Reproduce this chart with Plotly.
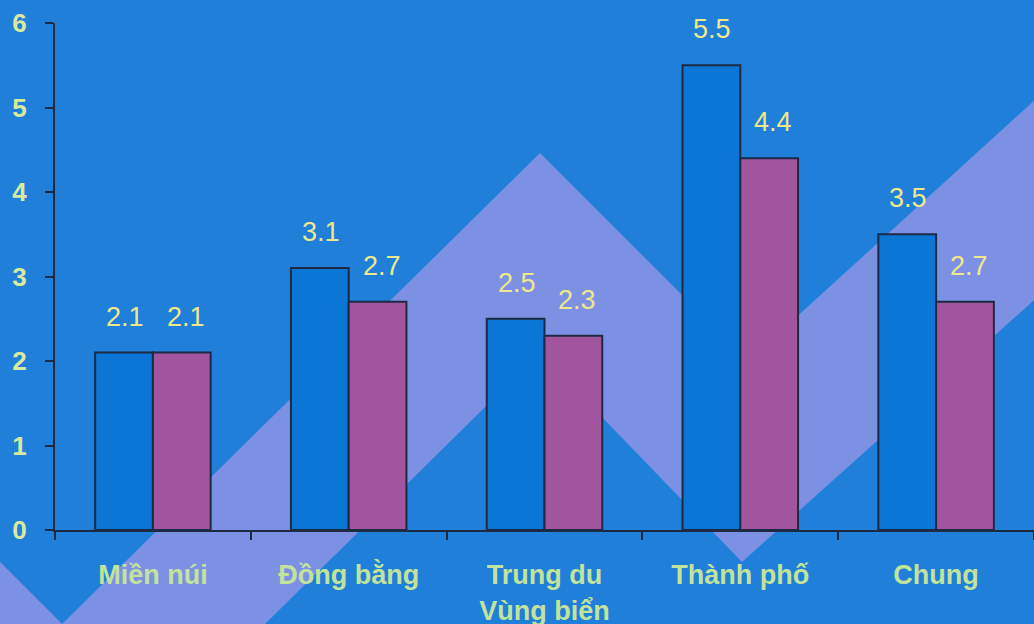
import plotly.graph_objects as go

# ---- data ----
categories = ["Miền núi", "Đồng bằng", "Trung du<br>Vùng biển", "Thành phố", "Chung"]
series_blue = [2.1, 3.1, 2.5, 5.5, 3.5]
series_purple = [2.1, 2.7, 2.3, 4.4, 2.7]
y_ticks = [0, 1, 2, 3, 4, 5, 6]

# ---- style ----
W, H = 1034, 624
ML, MR, MT, MB = 55, 0, 23, 94
PW, PH = W - ML - MR, H - MT - MB
BG = "#1f7fd9"
BAND = "#7d91e4"
BLUE = "#0b76d5"
PURPLE = "#a2559f"
EDGE = "#1c2a44"
TICK_COLOR = "#d9eaa0"
CAT_COLOR = "#c2e39c"
VAL_COLOR = "#eee88c"
FONT = "Liberation Sans, Arial, sans-serif"


def px(x):
    return (x - ML) / PW


def py(y):
    return (H - MB - y) / PH


# decorative zig-zag band (pixel coords of the background artwork)
band_pts = [(-30, 532), (62, 624), (540, 153), (748, 361), (1070, 68),
            (1070, 268), (742, 562), (540, 353), (62, 824), (-30, 732)]
path = "M " + " L ".join(f"{px(x):.4f},{py(y):.4f}" for x, y in band_pts) + " Z"

fig = go.Figure()
fig.add_trace(go.Bar(x=categories, y=series_blue, marker=dict(color=BLUE, line=dict(color=EDGE, width=2)),
                     showlegend=False, hoverinfo="skip"))
fig.add_trace(go.Bar(x=categories, y=series_purple, marker=dict(color=PURPLE, line=dict(color=EDGE, width=2)),
                     showlegend=False, hoverinfo="skip"))

bargap = 0.41
cat_px = PW / len(categories)
half_bar = cat_px * (1 - bargap) / 4
annotations = []
for cat, vb, vp in zip(categories, series_blue, series_purple):
    annotations.append(dict(x=cat, y=vb, text=f"{vb:.1f}", showarrow=False, xshift=-half_bar + 1, yshift=36,
                            yanchor="middle", font=dict(family=FONT, size=27, color=VAL_COLOR)))
    annotations.append(dict(x=cat, y=vp, text=f"{vp:.1f}", showarrow=False, xshift=half_bar + 4, yshift=36,
                            yanchor="middle", font=dict(family=FONT, size=27, color=VAL_COLOR)))

fig.update_layout(
    width=W, height=H,
    margin=dict(l=ML, r=MR, t=MT, b=MB, pad=0, autoexpand=False),
    paper_bgcolor=BG, plot_bgcolor="rgba(0,0,0,0)",
    barmode="group", bargap=bargap, bargroupgap=0,
    shapes=[dict(type="path", path=path, xref="paper", yref="paper", fillcolor=BAND,
                 line=dict(width=0), layer="below")],
    annotations=annotations,
    xaxis=dict(type="category", automargin=False, showline=True, linecolor=EDGE, linewidth=2, ticks="outside",
               tickson="boundaries", ticklen=8, tickwidth=2, tickcolor=EDGE, showgrid=False, ticklabelstandoff=20,
               tickfont=dict(family=FONT, size=27, color=CAT_COLOR, weight="bold")),
    yaxis=dict(range=[0, 6], tickvals=y_ticks, automargin=False, showline=True, linecolor=EDGE, linewidth=2,
               ticks="outside", ticklen=8, tickwidth=2, tickcolor=EDGE, showgrid=False, zeroline=False,
               ticklabelstandoff=13, tickfont=dict(family=FONT, size=26, color=TICK_COLOR, weight="bold")),
)

fig.write_html("out.html")
